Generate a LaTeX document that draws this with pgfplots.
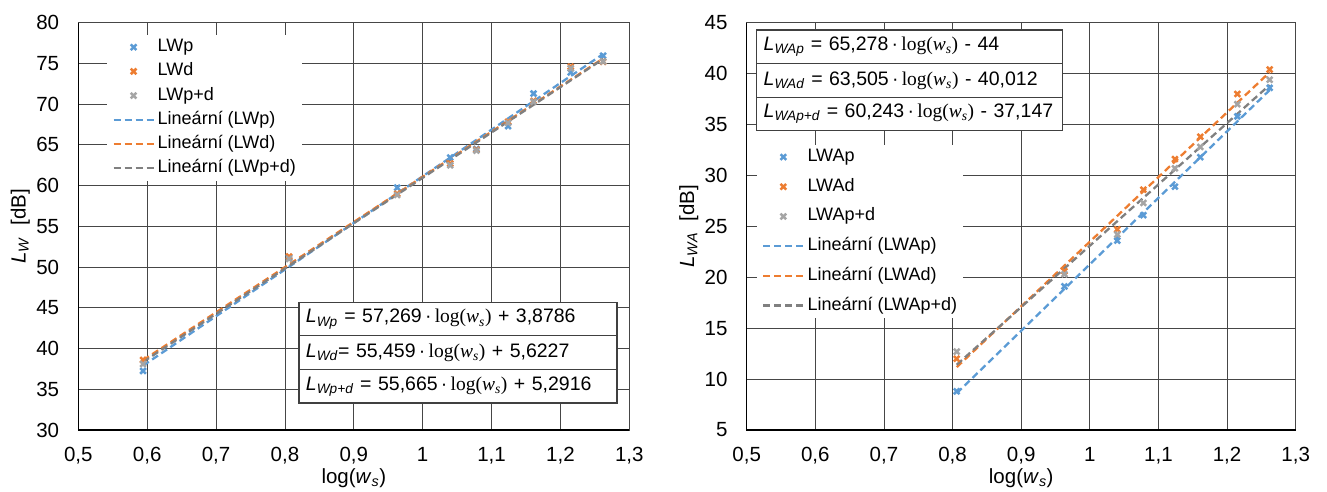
\documentclass[border=0pt]{standalone}
\usepackage{fontspec}
\setmainfont{Liberation Sans}
\newfontfamily\tnr{Liberation Serif}
\usepackage{pgfplots}
\pgfplotsset{compat=1.18}

\definecolor{xblue}{RGB}{91,155,213}
\definecolor{xorange}{RGB}{237,125,49}
\definecolor{xgray}{RGB}{165,165,165}
\definecolor{xgrayline}{RGB}{128,128,128}
\definecolor{gridc}{RGB}{70,70,70}

% log(w_s) in a serif face, as in the equation labels
\newcommand{\logws}{{\tnr log(\textit{w}\textsubscript{\textit{s}})}}
\newcommand{\lbl}[1]{\textit{L}\textsubscript{\textit{#1}}}

\tikzset{
  eqbox/.style={draw=black!75, line width=1.2pt, fill=white, inner xsep=7pt,
    inner ysep=0pt, outer sep=0pt, minimum height=33.6pt, text width=#1,
    align=left, font=\fontsize{19.5}{22}\selectfont},
}

\pgfplotsset{
  excel/.style={
    scale only axis, width=551pt, height=407.3pt,
    clip=false,
    xmin=0.5, xmax=1.3,
    xtick={0.5,0.6,0.7,0.8,0.9,1.0,1.1,1.2,1.3},
    xticklabels={{0,5},{0,6},{0,7},{0,8},{0,9},{1},{1,1},{1,2},{1,3}},
    /pgf/number format/assume math mode=true,
    grid=major,
    major grid style={gridc, line width=0.8pt},
    major tick length=0pt,
    axis line style={gridc, line width=0.8pt},
    tick label style={font=\fontsize{20.5}{24}\selectfont},
    yticklabel style={anchor=east, inner sep=0pt, xshift=-19pt},
    xticklabel style={anchor=north, inner sep=0pt, yshift=-17pt},
    every axis x label/.style={at={(axis description cs:0.5,-0.118)},
      anchor=center, font=\fontsize{20.5}{24}\selectfont},
    every axis y label/.style={at={(axis description cs:-0.1053,0.5)},
      rotate=90, anchor=center, font=\fontsize{20.5}{24}\selectfont},
    xlabel={log(\textit{w}\textsubscript{\textit{s}})},
    legend cell align=left,
    legend image code/.code={%
      \path[draw=none, fill=none] (0pt,-5pt) rectangle (0pt,5pt);
      \draw[mark repeat=2,mark phase=2,#1]
        plot coordinates {(0pt,0pt) (20pt,0pt) (40pt,0pt)};},
    legend style={draw=none, fill=white, font=\fontsize{18}{21}\selectfont,
      inner xsep=5pt, inner ysep=3pt, column sep=2pt,
      nodes={inner sep=1pt, text height=13pt, text depth=4pt}},
  },
  pts/.style={only marks, mark=x, mark size=4pt, #1,
    mark options={line width=2.5pt}},
  fit/.style={no marks, line width=2.3pt, dash pattern=on 7pt off 4pt, #1},
}

\begin{document}
\begin{tikzpicture}[x=1pt,y=1pt]
\useasboundingbox (0,0) rectangle (1327,491);

% ---------------- left: L_W ----------------
\begin{axis}[excel, at={(78.3pt,61pt)}, anchor=south west,
  ymin=30, ymax=80, ytick={30,35,40,45,50,55,60,65,70,75,80},
  ylabel={\lbl{W}\ \ [dB]},
  legend style={at={(axis cs:0.542,78.55)}, anchor=north west, row sep=5.2pt}]
\addplot[pts=xblue] coordinates {
  (0.594,37.25) (0.806,51.2) (0.963,59.75) (1.040,63.45) (1.078,64.5)
  (1.124,67.3) (1.161,71.3) (1.215,73.9) (1.262,75.95)};
\addplot[pts=xorange] coordinates {
  (0.594,38.6) (0.806,51.3) (0.963,59.0) (1.040,62.7) (1.078,64.4)
  (1.124,67.85) (1.161,70.4) (1.215,74.6) (1.262,75.2)};
\addplot[pts=xgray] coordinates {
  (0.594,38.1) (0.806,51.0) (0.963,58.85) (1.040,62.5) (1.078,64.3)
  (1.124,67.7) (1.161,70.3) (1.215,74.4) (1.262,75.25)};
% linear fits, end points from the fitted equations
\addplot[fit=xblue] coordinates {(0.594,37.896) (1.262,76.152)};
\addplot[fit=xorange] coordinates {(0.594,38.565) (1.262,75.612)};
\addplot[fit=xgrayline] coordinates {(0.594,38.357) (1.262,75.541)};
\legend{LWp, LWd, LWp+d, Lineární (LWp), Lineární (LWd), Lineární (LWp+d)}
\draw[black, line width=1.4pt] (rel axis cs:0,1) |- (rel axis cs:1,0);
\node[eqbox=304pt, anchor=north west] (a1) at (axis cs:0.8204,45.68)
  {\lbl{Wp} = 57,269\,·\,\logws{} + 3,8786};
\node[eqbox=304pt, anchor=north west] (a2) at (a1.south west)
  {\lbl{Wd}= 55,459\,·\,\logws{} + 5,6227};
\node[eqbox=304pt, anchor=north west] (a3) at (a2.south west)
  {\lbl{Wp+d} = 55,665\,·\,\logws{} + 5,2916};
\end{axis}

% ---------------- right: L_WA ----------------
\begin{axis}[excel, width=549pt, at={(746.7pt,61pt)}, anchor=south west,
  ymin=5, ymax=45, ytick={5,10,15,20,25,30,35,40,45},
  ylabel={\lbl{WA}\ \ [dB]},
  legend style={at={(axis cs:0.515,33.05)}, anchor=north west, row sep=10.7pt}]
\addplot[pts=xblue] coordinates {
  (0.806,8.8) (0.963,19.1) (1.040,23.6) (1.078,26.1) (1.124,28.9)
  (1.161,31.8) (1.215,35.8) (1.262,38.6)};
\addplot[pts=xorange] coordinates {
  (0.806,12.0) (0.963,20.6) (1.040,24.7) (1.078,28.6) (1.124,31.6)
  (1.161,33.8) (1.215,38.0) (1.262,40.4)};
\addplot[pts=xgray] coordinates {
  (0.806,12.7) (0.963,20.3) (1.040,24.2) (1.078,27.3) (1.124,30.7)
  (1.161,32.8) (1.215,37.0) (1.262,39.4)};
\addplot[fit=xblue] coordinates {(0.806,8.614) (1.262,38.381)};
\addplot[fit=xorange] coordinates {(0.806,11.173) (1.262,40.131)};
\addplot[fit=xgrayline] coordinates {(0.806,11.409) (1.262,38.880)};
\legend{LWAp, LWAd, LWAp+d, Lineární (LWAp), Lineární (LWAd), Lineární (LWAp+d)}
\draw[black, line width=1.4pt] (rel axis cs:0,1) |- (rel axis cs:1,0);
\node[eqbox=292pt, anchor=north west] (b1) at (axis cs:0.5146,44.28)
  {\lbl{WAp} = 65,278\,·\,\logws{} - 44};
\node[eqbox=292pt, anchor=north west] (b2) at (b1.south west)
  {\lbl{WAd} = 63,505\,·\,\logws{} - 40,012};
\node[eqbox=292pt, anchor=north west] (b3) at (b2.south west)
  {\lbl{WAp+d} = 60,243\,·\,\logws{} - 37,147};
\end{axis}
\end{tikzpicture}
\end{document}
